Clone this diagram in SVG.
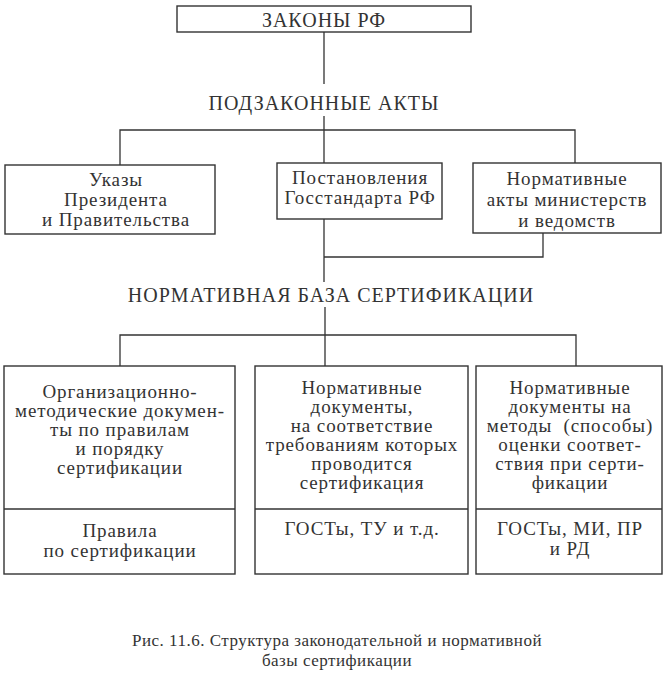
<svg xmlns="http://www.w3.org/2000/svg" width="667" height="684" viewBox="0 0 667 684" font-family="'Liberation Serif', 'Times New Roman', serif">
<style>
.bx{fill:none;stroke:#333;stroke-width:1.4}
.ln{fill:none;stroke:#333;stroke-width:1.3}
text{font-family:'Liberation Serif','Times New Roman',serif;fill:#333;text-anchor:middle}
.cap{font-size:20px;letter-spacing:1px}
.t{font-size:19px;letter-spacing:0.9px}
.c{font-size:17px;letter-spacing:0.5px}
</style>
<rect width="667" height="684" fill="#fff"/>
<g id="connectors">
<path class="ln" d="M324 32V84M324 116V163M120 165V130H575V163"/>
<path class="ln" d="M324 219V282M324 257H543V233"/>
<path class="ln" d="M325 307V366M120 366V335H576V366"/>
</g>
<g id="zakony"><rect class="bx" x="177" y="6" width="294" height="26"/><text class="cap" x="324" y="27">ЗАКОНЫ РФ</text></g>
<g id="podzakonnye"><text class="cap" x="324" y="110">ПОДЗАКОННЫЕ АКТЫ</text></g>
<g id="ukazy"><rect class="bx" x="5" y="165" width="210" height="69"/>
<text class="t" x="116" y="186">Указы</text><text class="t" x="116" y="206">Президента</text><text class="t" x="116" y="226">и Правительства</text></g>
<g id="postanovleniya"><rect class="bx" x="277" y="163" width="165" height="56"/>
<text class="t" x="360" y="184">Постановления</text><text class="t" x="360" y="204">Госстандарта РФ</text></g>
<g id="normativnye-akty"><rect class="bx" x="473" y="163" width="188" height="70"/>
<text class="t" x="567" y="185">Нормативные</text><text class="t" x="567" y="206">акты министерств</text><text class="t" x="567" y="227">и ведомств</text></g>
<g id="normbaza"><text class="cap" x="331" y="302">НОРМАТИВНАЯ БАЗА СЕРТИФИКАЦИИ</text></g>
<g id="org-metod"><rect class="bx" x="4" y="366" width="231" height="208"/><path class="ln" d="M4 509H235"/>
<text class="t" x="120" y="398">Организационно-</text><text class="t" x="120" y="417">методические докумен-</text><text class="t" x="120" y="436">ты по правилам</text><text class="t" x="120" y="455">и порядку</text><text class="t" x="120" y="474">сертификации</text>
<text class="t" x="120" y="537">Правила</text><text class="t" x="120" y="557">по сертификации</text></g>
<g id="norm-doc"><rect class="bx" x="255" y="366" width="213" height="208"/><path class="ln" d="M255 509H468"/>
<text class="t" x="362" y="394">Нормативные</text><text class="t" x="362" y="413">документы,</text><text class="t" x="362" y="432">на соответствие</text><text class="t" x="362" y="451">требованиям которых</text><text class="t" x="362" y="470">проводится</text><text class="t" x="362" y="489">сертификация</text>
<text class="t" x="362" y="535">ГОСТы, ТУ и т.д.</text></g>
<g id="norm-metod"><rect class="bx" x="476" y="366" width="186" height="208"/><path class="ln" d="M476 509H662"/>
<text class="t" x="570" y="394">Нормативные</text><text class="t" x="570" y="413">документы на</text><text class="t" x="570" y="432" xml:space="preserve">методы  (способы)</text><text class="t" x="570" y="451">оценки соответ-</text><text class="t" x="570" y="470">ствия при серти-</text><text class="t" x="570" y="489">фикации</text>
<text class="t" x="570" y="535">ГОСТы, МИ, ПР</text><text class="t" x="570" y="555">и РД</text></g>
<g id="caption"><text class="c" x="337" y="646">Рис. 11.6. Структура законодательной и нормативной</text><text class="c" x="337" y="666">базы сертификации</text></g>
</svg>
